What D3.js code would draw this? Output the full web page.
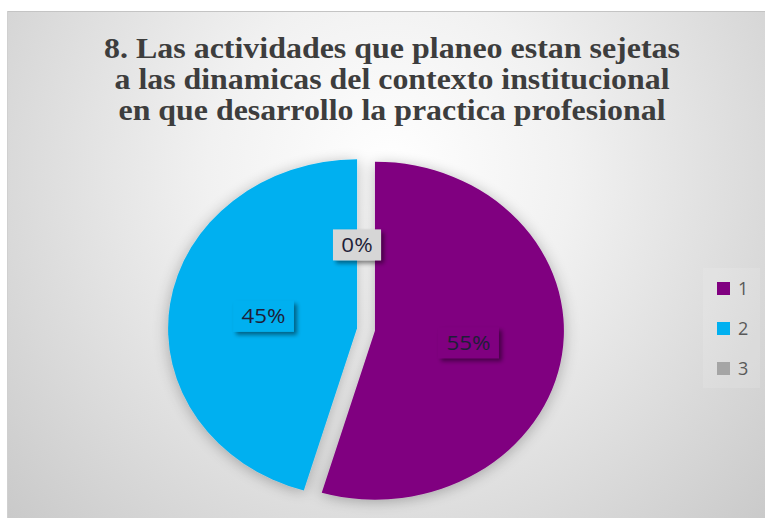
<!DOCTYPE html>
<html>
<head>
<meta charset="utf-8">
<script src="https://cdn.jsdelivr.net/npm/d3@7"></script>
<style>
  html, body { margin: 0; padding: 0; background: #ffffff; }
  svg { display: block; }
</style>
</head>
<body>
<svg id="chart" width="765" height="518"></svg>
<script>
// ---- data ----
const categories = ["1", "2", "3"];
const values = [12, 10, 0];
const colors = ["#800080", "#00B0F0", "#A5A5A5"];
const labelBoxColors = ["#800080", "#00B0F0", "#D6D6D6"];
const titleLines = [
  "8. Las actividades que planeo estan sejetas",
  "a las dinamicas del contexto institucional",
  "en que desarrollo la practica profesional"
];

// ---- layout ----
const W = 765, H = 518;
const svg = d3.select("#chart");
const defs = svg.append("defs");

const grad = defs.append("radialGradient").attr("id", "bg")
  .attr("gradientUnits", "userSpaceOnUse")
  .attr("cx", 390).attr("cy", 170).attr("r", 520);
grad.append("stop").attr("offset", "0").attr("stop-color", "#ffffff");
grad.append("stop").attr("offset", "0.35").attr("stop-color", "#f1f1f1");
grad.append("stop").attr("offset", "1").attr("stop-color", "#c9c9c9");

const pieShadow = defs.append("filter").attr("id", "pieShadow")
  .attr("x", "-20%").attr("y", "-20%").attr("width", "140%").attr("height", "140%");
pieShadow.append("feGaussianBlur").attr("in", "SourceAlpha").attr("stdDeviation", 7).attr("result", "b");
pieShadow.append("feOffset").attr("in", "b").attr("dx", 0).attr("dy", 2).attr("result", "o");
pieShadow.append("feComponentTransfer").attr("in", "o").attr("result", "s")
  .append("feFuncA").attr("type", "linear").attr("slope", 0.28);
const m1 = pieShadow.append("feMerge");
m1.append("feMergeNode").attr("in", "s");
m1.append("feMergeNode").attr("in", "SourceGraphic");

const boxShadow = defs.append("filter").attr("id", "boxShadow")
  .attr("x", "-30%").attr("y", "-30%").attr("width", "170%").attr("height", "180%");
boxShadow.append("feGaussianBlur").attr("in", "SourceAlpha").attr("stdDeviation", 2).attr("result", "b");
boxShadow.append("feOffset").attr("in", "b").attr("dx", 2.5).attr("dy", 3).attr("result", "o");
boxShadow.append("feComponentTransfer").attr("in", "o").attr("result", "s")
  .append("feFuncA").attr("type", "linear").attr("slope", 0.45);
const m2 = boxShadow.append("feMerge");
m2.append("feMergeNode").attr("in", "s");
m2.append("feMergeNode").attr("in", "SourceGraphic");

// chart area
svg.append("rect").attr("x", 7).attr("y", 11).attr("width", W - 7).attr("height", H - 11)
  .attr("fill", "url(#bg)");
svg.append("line").attr("x1", 7).attr("x2", W).attr("y1", 11.5).attr("y2", 11.5)
  .attr("stroke", "#c4c4c4").attr("stroke-width", 1);
svg.append("line").attr("x1", 7.5).attr("x2", 7.5).attr("y1", 11).attr("y2", H)
  .attr("stroke", "#d0d0d0").attr("stroke-width", 1);

// title
const titleX = 392;
const titleBaselines = [58, 89, 120];
const titleWidths = [576, 555, 547];
svg.append("g").selectAll("text").data(titleLines).join("text")
  .attr("x", titleX)
  .attr("y", (d, i) => titleBaselines[i])
  .attr("text-anchor", "middle")
  .attr("textLength", (d, i) => titleWidths[i])
  .attr("lengthAdjust", "spacingAndGlyphs")
  .attr("font-family", "'Liberation Serif', 'Times New Roman', serif")
  .attr("font-weight", "bold")
  .attr("font-size", 30)
  .attr("fill", "#3d3d3d")
  .text(d => d);

// pie
const cx = 366, cy = 329.5, R = 169, sx = 1.118, explode = 8.1;
const pie = d3.pie().sort(null).value(d => d);
const arcs = pie(values);
const arc = d3.arc().innerRadius(0).outerRadius(R);
const offset = a => {
  const mid = (a.startAngle + a.endAngle) / 2;
  return [explode * Math.sin(mid), -explode * Math.cos(mid)];
};

const pieG = svg.append("g")
  .attr("transform", `translate(${cx},${cy}) scale(${sx},1)`)
  .attr("filter", "url(#pieShadow)");
pieG.selectAll("path").data(arcs).join("path")
  .attr("transform", a => { const o = offset(a); return `translate(${o[0]},${o[1]})`; })
  .attr("d", arc)
  .attr("fill", (a, i) => colors[i]);

// data labels
const fmt = d3.format(".0%");
const total = d3.sum(values);
const labelNudge = [[0, 0], [0, 0], [-9, 8]];
const labG = svg.append("g");
arcs.forEach((a, i) => {
  const c = arc.centroid(a);
  const o = offset(a);
  const x = cx + sx * (c[0] + o[0]) + labelNudge[i][0];
  const y = cy + c[1] + o[1] + labelNudge[i][1];
  const g = labG.append("g").attr("transform", `translate(${x},${y}) scale(${sx},1)`);
  const t = g.append("text")
    .attr("x", 0).attr("y", 7)
    .attr("text-anchor", "middle")
    .attr("font-family", "'Open Sans', 'Noto Sans', sans-serif")
    .attr("font-size", 20)
    .attr("fill", "#1e1e38")
    .text(fmt(values[i] / total));
  const tw = t.node().getComputedTextLength();
  const bw = tw + 15, bh = 31;
  g.insert("rect", "text")
    .attr("x", -bw / 2).attr("y", -bh / 2)
    .attr("width", bw).attr("height", bh)
    .attr("fill", labelBoxColors[i])
    .attr("filter", "url(#boxShadow)");
});

// legend
const legX = 717, legY0 = 282, legStep = 40, sw = 13;
svg.append("rect").attr("x", 703).attr("y", 268).attr("width", 57).attr("height", 120)
  .attr("fill", "#ffffff").attr("opacity", 0.12);
const leg = svg.append("g").selectAll("g").data(categories).join("g")
  .attr("transform", (d, i) => `translate(${legX},${legY0 + i * legStep})`);
leg.append("rect").attr("width", sw).attr("height", sw).attr("fill", (d, i) => colors[i]);
leg.append("text").attr("x", 21).attr("y", 12.5)
  .attr("font-family", "'Open Sans', 'Noto Sans', sans-serif")
  .attr("font-size", 18).attr("fill", "#595959")
  .text(d => d);
</script>
</body>
</html>
